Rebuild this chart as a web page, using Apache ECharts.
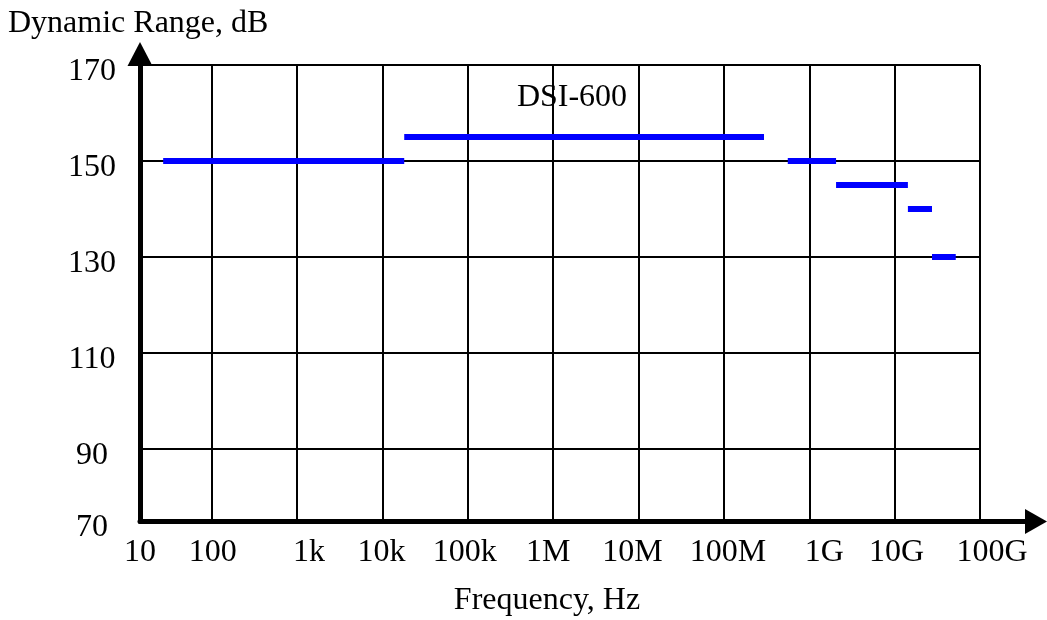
<!DOCTYPE html>
<html>
<head>
<meta charset="utf-8">
<script src="https://cdn.jsdelivr.net/npm/echarts@6/dist/echarts.min.js"></script>
<style>
html,body{margin:0;padding:0;background:#fff;}
#chart{width:1047px;height:620px;}
</style>
</head>
<body>
<div id="chart"></div>
<script>
// ---- data ----
const xTickLabels = ['10', '100', '1k', '10k', '100k', '1M', '10M', '100M', '1G', '10G', '100G'];
const xTickHz = [1e1, 1e2, 1e3, 1e4, 1e5, 1e6, 1e7, 1e8, 1e9, 1e10, 1e11];
const yTicks = [70, 90, 110, 130, 150, 170];
const segStartHz = [27, 1.8e4, 5.6e8, 2.06e9, 1.43e10, 2.74e10];
const segEndHz = [1.8e4, 2.95e8, 2.06e9, 1.43e10, 2.74e10, 5.2e10];
const segDR = [150, 155, 150, 145, 140, 130];
const seriesName = 'DSI-600';

// ---- layout / style ----
const xMin = 1.16;   // log10(Hz) at the left axis, labelled "10"
const xMax = 11;
const yMin = 75;     // labelled "70"
const yMax = 170;
// small horizontal nudges (px) of the tick labels, as placed in the original
const xLabelNudge = [0, 1, 12, -1, -3, -5, -6, 4, 15, 2, 12];

const lg = h => Math.log10(h);
const xExp = xTickHz.map(h => Math.round(lg(h)));
const xCustom = xExp.map(e => Math.max(e, xMin));
const yCustom = yTicks.map(v => Math.max(v, yMin));

const FONT = 'Liberation Serif, Times New Roman, serif';
const chart = echarts.init(document.getElementById('chart'), null, {renderer: 'canvas'});

const rich = {};
xLabelNudge.forEach((d, i) => {
  rich['n' + i] = {
    fontFamily: FONT, fontSize: 32, color: '#000',
    padding: d >= 0 ? [0, 0, 0, 2 * d] : [0, -2 * d, 0, 0]
  };
});

const segSeries = segDR.map((dr, i) => ({
  type: 'line',
  xAxisIndex: 0, yAxisIndex: 0,
  data: [[lg(segStartHz[i]), dr], [lg(segEndHz[i]), dr]],
  showSymbol: false, symbol: 'none',
  silent: true,
  lineStyle: {color: '#0000ff', width: 6, cap: 'butt'},
  z: 5
}));

chart.setOption({
  animation: false,
  backgroundColor: '#ffffff',
  grid: [
    {left: 140, right: 67, top: 65, bottom: 99, containLabel: false},
    {left: 140, right: 11, top: 54, bottom: 98.5, containLabel: false}
  ],
  xAxis: [
    {
      type: 'value', gridIndex: 0, min: xMin, max: xMax,
      axisLine: {show: false},
      axisTick: {show: false, customValues: xCustom},
      axisLabel: {
        customValues: xCustom, margin: 16,
        fontFamily: FONT, fontSize: 32, color: '#000',
        formatter: v => {
          const e = v <= xMin ? xExp[0] : Math.round(v);
          const i = xExp.indexOf(e);
          return '{n' + i + '|' + xTickLabels[i] + '}';
        },
        rich: rich
      },
      splitLine: {show: true, lineStyle: {color: '#000', width: 2}}
    },
    {
      type: 'value', gridIndex: 1, min: 0, max: 1,
      axisLine: {show: true, onZero: false, symbol: ['none', 'triangle'], symbolSize: [25, 22],
        lineStyle: {color: '#000', width: 5}},
      axisTick: {show: false}, axisLabel: {show: false}, splitLine: {show: false}
    }
  ],
  yAxis: [
    {
      type: 'value', gridIndex: 0, min: yMin, max: yMax,
      axisLine: {show: false},
      axisTick: {show: false, customValues: yCustom},
      axisLabel: {
        customValues: yCustom, margin: 48, align: 'center',
        verticalAlign: 'top', lineHeight: 14,
        fontFamily: FONT, fontSize: 32, color: '#000',
        formatter: v => String(v <= yMin ? yTicks[0] : v)
      },
      splitLine: {show: true, lineStyle: {color: '#000', width: 2}}
    },
    {
      type: 'value', gridIndex: 1, min: 0, max: 1,
      axisLine: {show: true, onZero: false, symbol: ['none', 'triangle'], symbolSize: [25, 24],
        lineStyle: {color: '#000', width: 5}},
      axisTick: {show: false}, axisLabel: {show: false}, splitLine: {show: false}
    }
  ],
  graphic: [
    {type: 'text', x: 8, y: 24, style: {text: 'Dynamic Range, dB', fontFamily: FONT, fontSize: 32, fill: '#000', align: 'left', verticalAlign: 'middle'}},
    {type: 'text', x: 547, y: 601, style: {text: 'Frequency, Hz', fontFamily: FONT, fontSize: 32, fill: '#000', align: 'center', verticalAlign: 'middle'}},
    {type: 'text', x: 572, y: 98, style: {text: seriesName, fontFamily: FONT, fontSize: 32, fill: '#000', align: 'center', verticalAlign: 'middle'}}
  ],
  series: segSeries
});
</script>
</body>
</html>
